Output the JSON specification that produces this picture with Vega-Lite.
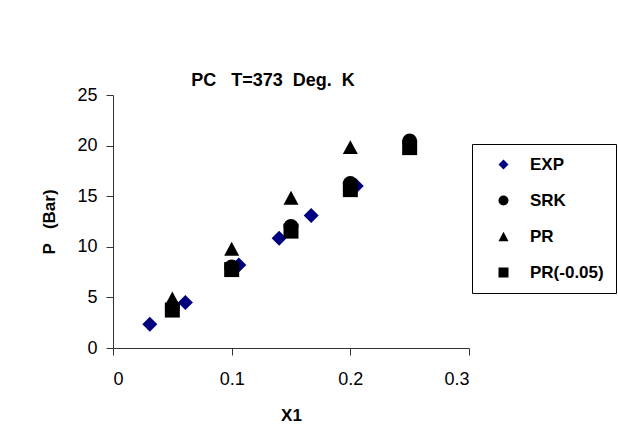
{
  "$schema": "https://vega.github.io/schema/vega-lite/v6.json",
  "autosize": {"type": "none"},
  "padding": {"left": 113, "top": 95, "right": 149, "bottom": 100},
  "width": 356,
  "height": 253,
  "background": "white",
  "config": {
    "font": "Liberation Sans",
    "view": {"stroke": null},
    "axis": {
      "domainColor": "#333333",
      "tickColor": "#333333",
      "tickSize": 7,
      "grid": false,
      "labelColor": "#000000",
      "labelFont": "Liberation Sans",
      "labelFontSize": 18,
      "titleColor": "#000000",
      "titleFont": "Liberation Sans",
      "titleFontSize": 17,
      "titleFontWeight": "bold"
    }
  },
  "title": {
    "text": "PC\u00a0\u00a0\u00a0T=373\u00a0\u00a0Deg.\u00a0\u00a0K",
    "font": "Liberation Sans",
    "fontSize": 18,
    "fontWeight": "bold",
    "color": "#000000",
    "anchor": "middle",
    "dx": -18,
    "offset": -4
  },
  "data": {
    "values": [
      {"series": "EXP", "x1": 0.031, "p": 2.35},
      {"series": "EXP", "x1": 0.061, "p": 4.5},
      {"series": "EXP", "x1": 0.106, "p": 8.2},
      {"series": "EXP", "x1": 0.14, "p": 10.85},
      {"series": "EXP", "x1": 0.167, "p": 13.1},
      {"series": "EXP", "x1": 0.205, "p": 16.0},
      {"series": "SRK", "x1": 0.05, "p": 4.05},
      {"series": "SRK", "x1": 0.1, "p": 8.0},
      {"series": "SRK", "x1": 0.15, "p": 12.0},
      {"series": "SRK", "x1": 0.2, "p": 16.25},
      {"series": "SRK", "x1": 0.25, "p": 20.45},
      {"series": "PR", "x1": 0.05, "p": 4.9},
      {"series": "PR", "x1": 0.1, "p": 9.8},
      {"series": "PR", "x1": 0.15, "p": 14.85},
      {"series": "PR", "x1": 0.2, "p": 19.85},
      {"series": "PR(-0.05)", "x1": 0.05, "p": 3.75},
      {"series": "PR(-0.05)", "x1": 0.1, "p": 7.75},
      {"series": "PR(-0.05)", "x1": 0.15, "p": 11.55},
      {"series": "PR(-0.05)", "x1": 0.2, "p": 15.65},
      {"series": "PR(-0.05)", "x1": 0.25, "p": 19.8}
    ]
  },
  "mark": {"type": "point", "filled": true, "opacity": 1, "size": 225},
  "encoding": {
    "x": {
      "field": "x1",
      "type": "quantitative",
      "title": "X1",
      "scale": {"domain": [0, 0.3], "nice": false, "zero": false},
      "axis": {"values": [0, 0.1, 0.2, 0.3], "format": "~g", "labelPadding": 15, "titlePadding": 19}
    },
    "y": {
      "field": "p",
      "type": "quantitative",
      "title": "P\u00a0\u00a0\u00a0(Bar)",
      "scale": {"domain": [0, 25], "nice": false},
      "axis": {"values": [0, 5, 10, 15, 20, 25], "labelPadding": 9, "titlePadding": 18}
    },
    "color": {
      "field": "series",
      "type": "nominal",
      "scale": {
        "domain": ["EXP", "SRK", "PR", "PR(-0.05)"],
        "range": ["#000080", "#000000", "#000000", "#000000"]
      },
      "legend": {
        "title": null,
        "orient": "none",
        "legendX": 359,
        "legendY": 49,
        "strokeColor": "#000000",
        "fillColor": "#ffffff",
        "padding": 12,
        "symbolOffset": 11,
        "labelOffset": 18,
        "rowPadding": 18,
        "symbolSize": 100,
        "labelFont": "Liberation Sans",
        "labelFontSize": 17,
        "labelFontWeight": "bold",
        "labelColor": "#000000"
      }
    },
    "shape": {
      "field": "series",
      "type": "nominal",
      "scale": {
        "domain": ["EXP", "SRK", "PR", "PR(-0.05)"],
        "range": ["diamond", "circle", "M0,-0.93L1,0.93L-1,0.93Z", "square"]
      }
    }
  }
}
